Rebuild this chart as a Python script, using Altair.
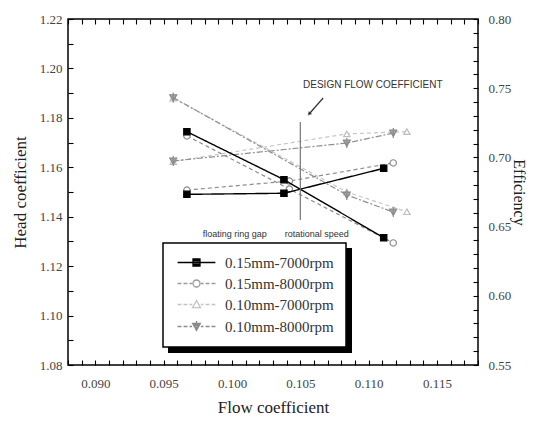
import altair as alt
import pandas as pd

# ---------------- data ----------------
series = ["0.15mm-7000rpm", "0.15mm-8000rpm", "0.10mm-7000rpm", "0.10mm-8000rpm"]

flow_a = [0.0967, 0.1038, 0.1111]
head_a = [1.1744, 1.1550, 1.1315]
eff_a = [0.6733, 0.6741, 0.6921]

flow_b = [0.0967, 0.1042, 0.1118]
head_b = [1.1727, 1.1512, 1.1294]
eff_b = [0.6764, 0.6829, 0.6960]

flow_c = [0.0957, 0.1084, 0.1128]
head_c = [1.1880, 1.1500, 1.1420]
eff_c = [0.6970, 0.7170, 0.7186]

flow_d = [0.0957, 0.1084, 0.1118]
head_d = [1.1882, 1.1488, 1.1419]
eff_d = [0.6974, 0.7104, 0.7176]

x_ticks = [0.088, 0.089, 0.090, 0.091, 0.092, 0.093, 0.094, 0.095, 0.096, 0.097, 0.098, 0.099,
           0.100, 0.101, 0.102, 0.103, 0.104, 0.105, 0.106, 0.107, 0.108, 0.109, 0.110, 0.111,
           0.112, 0.113, 0.114, 0.115, 0.116, 0.117, 0.118]
head_ticks = [1.08, 1.09, 1.10, 1.11, 1.12, 1.13, 1.14, 1.15, 1.16, 1.17, 1.18, 1.19, 1.20, 1.21, 1.22]
eff_ticks = [0.55, 0.56, 0.57, 0.58, 0.59, 0.60, 0.61, 0.62, 0.63, 0.64, 0.65, 0.66, 0.67,
             0.68, 0.69, 0.70, 0.71, 0.72, 0.73, 0.74, 0.75, 0.76, 0.77, 0.78, 0.79, 0.80]

design_flow = [0.105]
design_top = [1.1783]
design_bottom = [1.1387]

notes = ["DESIGN FLOW COEFFICIENT", "floating ring gap", "rotational speed"]
note_x = [0.1103, 0.1002, 0.1062]
note_y = [1.1933, 1.1330, 1.1330]
arrow_x = [0.10667]
arrow_y = [1.18803]
arrow_x2 = [0.10564]
arrow_y2 = [1.18156]

# ---------------- styles ----------------
W, H = 410, 346
X_DOM = [0.088, 0.118]
H_DOM = [1.08, 1.22]
E_DOM = [0.55, 0.80]
TICK = alt.ExprRef(expr="-5")

styles = {
    "0.15mm-7000rpm": dict(line="black", dash=[1, 0], shape="square", stroke="black", fill="black", lw=1.4),
    "0.15mm-8000rpm": dict(line="#8c8c8c", dash=[4, 3], shape="circle", stroke="#8c8c8c", fill="white", lw=1.2),
    "0.10mm-7000rpm": dict(line="#c6c6c6", dash=[4, 3], shape="triangle-up", stroke="#bdbdbd", fill="white", lw=1.2),
    "0.10mm-8000rpm": dict(line="#8f8f8f", dash=[6, 2, 2, 2], shape="M-1.1,-0.9H1.1L0,1.1Z M0,-1.6V1.6",
                           stroke="#8a8a8a", fill="#a8a8a8", lw=1.2),
}
legend_strokes = ["black", "#9a9a9a", "#c4c4c4", "#8a8a8a"]
dash = "M-5.4,0H-4.3M-3.7,0H-2.6M-2.0,0H-1.25M1.25,0H2.0M2.6,0H3.7M4.3,0H5.4"
legend_paths = [
    "M-5.4,0H5.4M-1,-1H1V1H-1ZM-1,-0.6H1M-1,-0.2H1M-1,0.2H1M-1,0.6H1",
    dash + "M-1,0A1,1 0 1,0 1,0A1,1 0 1,0 -1,0Z",
    dash + "M0,-1.1L1.15,0.9H-1.15Z",
    dash + "M-1.1,-0.9H1.1L0,1.1ZM-0.88,-0.5H0.88M-0.66,-0.1H0.66M-0.44,0.3H0.44M-0.22,0.7H0.22M0,-1.6V-0.9",
]

rows = []
for name, fl, hd, ef in [(series[0], flow_a, head_a, eff_a), (series[1], flow_b, head_b, eff_b),
                         (series[2], flow_c, head_c, eff_c), (series[3], flow_d, head_d, eff_d)]:
    for f, h, e in zip(fl, hd, ef):
        rows.append({"series": name, "flow": f, "head": h, "eff": e})
df = pd.DataFrame(rows)

# ---------------- axes (inward ticks) ----------------
tick_style = dict(ticks=True, tickSize=TICK, tickColor="black", tickWidth=1.1, domain=False, grid=False)
xaxis_bottom = alt.Axis(values=x_ticks, labelExpr="abs(datum.value*200 - round(datum.value*200)) < 0.001 ? format(datum.value, '.3f') : ''",
                        labelPadding=17, title="Flow coefficient", titlePadding=9, labelOverlap=False, **tick_style)
xaxis_top = alt.Axis(values=x_ticks, orient="top", labels=False, title=None, **tick_style)
haxis = alt.Axis(values=head_ticks, labelExpr="abs(datum.value*50 - round(datum.value*50)) < 0.001 ? format(datum.value, '.2f') : ''",
                 labelPadding=11, title="Head coefficient", titlePadding=10, labelOverlap=False, **tick_style)
eaxis = alt.Axis(values=eff_ticks, labelExpr="abs(datum.value*20 - round(datum.value*20)) < 0.001 ? format(datum.value, '.2f') : ''",
                 orient="right", labelPadding=15, title="Efficiency", titlePadding=0, titleAngle=90,
                 titleFontSize=16, labelOverlap=False, **tick_style)


def X(f, ax=None):
    return alt.X(f, type="quantitative", scale=alt.Scale(domain=X_DOM, nice=False, zero=False), axis=ax)


def YH(f, ax=False):
    return alt.Y(f, type="quantitative", scale=alt.Scale(domain=H_DOM, nice=False, zero=False),
                 axis=haxis if ax else None)


def YE(f, ax=False):
    return alt.Y(f, type="quantitative", scale=alt.Scale(domain=E_DOM, nice=False, zero=False),
                 axis=eaxis if ax else None)


layers = []

# shadow of legend box
layers.append(alt.Chart(pd.DataFrame({"k": [0]})).mark_rect(color="black").encode(
    x=alt.value(100), x2=alt.value(284), y=alt.value(229), y2=alt.value(334)))

draw_order = [series[2], series[3], series[1], series[0]]
first = True
for name in draw_order:
    st = styles[name]
    sub = df[df.series == name]
    layers.append(alt.Chart(sub).mark_line(color=st["line"], strokeDash=st["dash"], strokeWidth=st["lw"])
                  .encode(x=X("flow", xaxis_bottom if first else None), y=YH("head", first)))
    layers.append(alt.Chart(sub).mark_point(shape=st["shape"], filled=True, fill=st["fill"], stroke=st["stroke"],
                                            strokeWidth=1.2, size=40, opacity=1)
                  .encode(x=X("flow"), y=YH("head")))
    layers.append(alt.Chart(sub).mark_line(color=st["line"], strokeDash=st["dash"], strokeWidth=st["lw"])
                  .encode(x=X("flow", xaxis_top if first else None), y=YE("eff", first)))
    layers.append(alt.Chart(sub).mark_point(shape=st["shape"], filled=True, fill=st["fill"], stroke=st["stroke"],
                                            strokeWidth=1.2, size=40, opacity=1)
                  .encode(x=X("flow"), y=YE("eff")))
    first = False

# legend-only layer (invisible marks, visible legend)
layers.append(alt.Chart(df).mark_point(opacity=0, size=49).encode(
    x=X("flow"), y=YH("head"),
    stroke=alt.Stroke("series:N", scale=alt.Scale(domain=series, range=legend_strokes), legend=alt.Legend(title=None)),
    shape=alt.Shape("series:N", scale=alt.Scale(domain=series, range=legend_paths), legend=alt.Legend(title=None)),
))

# design flow line and notes
ddf = pd.DataFrame({"x": design_flow, "y1": design_top, "y2": design_bottom})
layers.append(alt.Chart(ddf).mark_rule(color="#777777", strokeWidth=1.2).encode(
    x=X("x"), y=YH("y1"), y2="y2:Q"))

ndf = pd.DataFrame({"t": notes, "x": note_x, "y": note_y})
layers.append(alt.Chart(ndf.iloc[:1]).mark_text(font="Liberation Sans", fontSize=10, color="#333")
              .encode(x=X("x"), y=YH("y"), text="t:N"))
layers.append(alt.Chart(ndf.iloc[1:]).mark_text(font="Liberation Sans", fontSize=9, color="#333")
              .encode(x=X("x"), y=YH("y"), text="t:N"))

adf = pd.DataFrame({"x": arrow_x, "y": arrow_y, "x2": arrow_x2, "y2": arrow_y2})
layers.append(alt.Chart(adf).mark_rule(color="#333", strokeWidth=1.2).encode(
    x=X("x"), y=YH("y"), x2="x2:Q", y2="y2:Q"))
layers.append(alt.Chart(adf).mark_point(shape="triangle-down", filled=True, color="#222", size=22, angle=41)
              .encode(x=X("x2"), y=YH("y2")))

chart = alt.layer(*layers).resolve_scale(y="independent").resolve_axis(x="independent").properties(
    width=W, height=H,
    autosize=alt.AutoSizeParams(type="none"),
    padding={"left": 60, "top": 11, "right": 53, "bottom": 52},
).configure_view(stroke="black", strokeWidth=1.5).configure_axis(
    labelFont="Liberation Serif", labelFontSize=13, labelColor="#444",
    titleFont="Liberation Serif", titleFontSize=17, titleFontWeight="normal", titleColor="#222",
).configure_legend(
    orient="none", legendX=95, legendY=224, padding=12, fillColor="white", strokeColor="black",
    strokeWidth=1.5, symbolSize=49, symbolStrokeWidth=1.3, symbolOffset=14, labelOffset=21,
    labelFont="Liberation Serif", labelFontSize=15, labelColor="#333", rowPadding=5,
)

chart.save("out.html", embed_options={"renderer": "svg", "actions": False})
